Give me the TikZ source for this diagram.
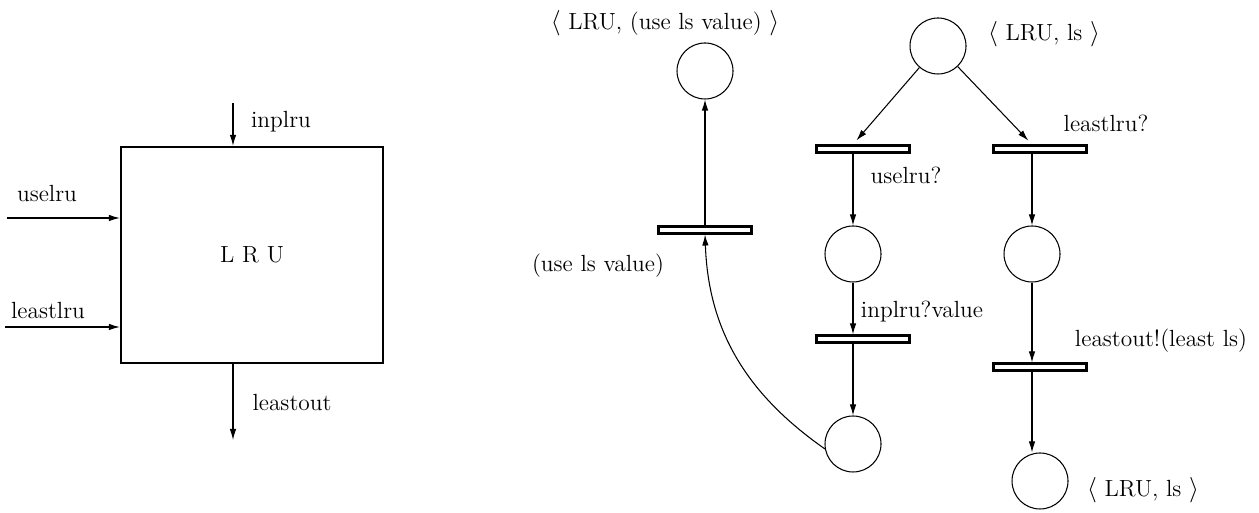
\documentclass[tikz,border=0pt]{standalone}
\usepackage{amsmath, amssymb}
\usetikzlibrary{calc,positioning,arrows.meta}
\tikzset{>={Latex[length=2.2mm,width=1.3mm]}}
\tikzset{font=\fontsize{13.3}{16}\selectfont}
\tikzset{place/.style={circle, draw, semithick, minimum size=1.12cm, inner sep=0pt},
  trans/.style={rectangle, draw, line width=1.2pt, fill=white,
    minimum width=1.86cm, minimum height=0.14cm, inner sep=0pt},
  flow/.style={->, semithick}}

\begin{document}
\begin{tikzpicture}
  \useasboundingbox (0,0) rectangle (25.18,10.26);
  % the LRU process as a block
  \node[draw, line width=1.3pt, minimum width=5.24cm, minimum height=4.32cm] (lru) at (5.04,5.16) {L\,\,R\,\,U};
  \coordinate (inp) at (4.66,8.2);
  \coordinate (outp) at (4.66,1.46);
  \coordinate (use) at (0.14,5.9);
  \coordinate (lst) at (0.1,3.72);
  \draw[flow] (inp) -- (inp |- lru.north);
  \draw[flow] (outp |- lru.south) -- (outp);
  \draw[flow] (use) -- (use -| lru.west);
  \draw[flow] (lst) -- (lst -| lru.west);
  \node (inplru) at (5.62,7.82) {inplru};
  \node (leastout) at (5.84,2.2) {leastout};
  \node (uselru) at (0.94,6.38) {uselru};
  \node (leastlru) at (0.96,4.04) {leastlru};

  % the net
  \node[place] (p1) at (14.1,8.84) {};
  \node[trans] (t1) at (14.1,5.66) {};
  \node[place] (p2) at (18.76,9.34) {};
  \node[trans] (t2) at (17.26,7.28) {};
  \node[trans] (t3) at (20.8,7.28) {};
  \node[place] (p3) at (17.06,5.18) {};
  \node[place] (p4) at (20.64,5.18) {};
  \node[trans] (t4) at (17.26,3.48) {};
  \node[trans] (t5) at (20.8,2.92) {};
  \node[place] (p5) at (17.06,1.38) {};
  \node[place] (p6) at (20.8,0.64) {};

  \node (m1) at (13.3,9.8) {$\langle$ LRU, (use ls value) $\rangle$};
  \node (m2) at (20.88,9.58) {$\langle$ LRU, ls $\rangle$};
  \node (m3) at (22.86,0.46) {$\langle$ LRU, ls $\rangle$};
  \node (l1) at (11.96,4.94) {(use ls value)};
  \node (l2) at (18.12,6.76) {uselru?};
  \node (l3) at (22.12,7.8) {leastlru?};
  \node (l4) at (18.44,4.02) {inplru?value};
  \node (l5) at (23.22,3.44) {leastout!(least ls)};

  \draw[flow] (t1) -- (p1);
  \draw[flow, shorten >=3pt] (p2) -- (p3 |- t2.north);
  \draw[flow, shorten >=3pt] (p2) -- (p4 |- t3.north);
  \draw[flow] (p3 |- t2.south) -- (p3);
  \draw[flow] (p4 |- t3.south) -- (p4);
  \draw[flow] (p3) -- (p3 |- t4.north);
  \draw[flow] (p4) -- (p4 |- t5.north);
  \draw[flow] (p3 |- t4.south) -- (p5);
  \draw[flow] (p4 |- t5.south) -- (p4 |- p6.north);
  \draw[flow] (p5.190) to[out=145, in=-88] (t1.south);
\end{tikzpicture}
\end{document}
